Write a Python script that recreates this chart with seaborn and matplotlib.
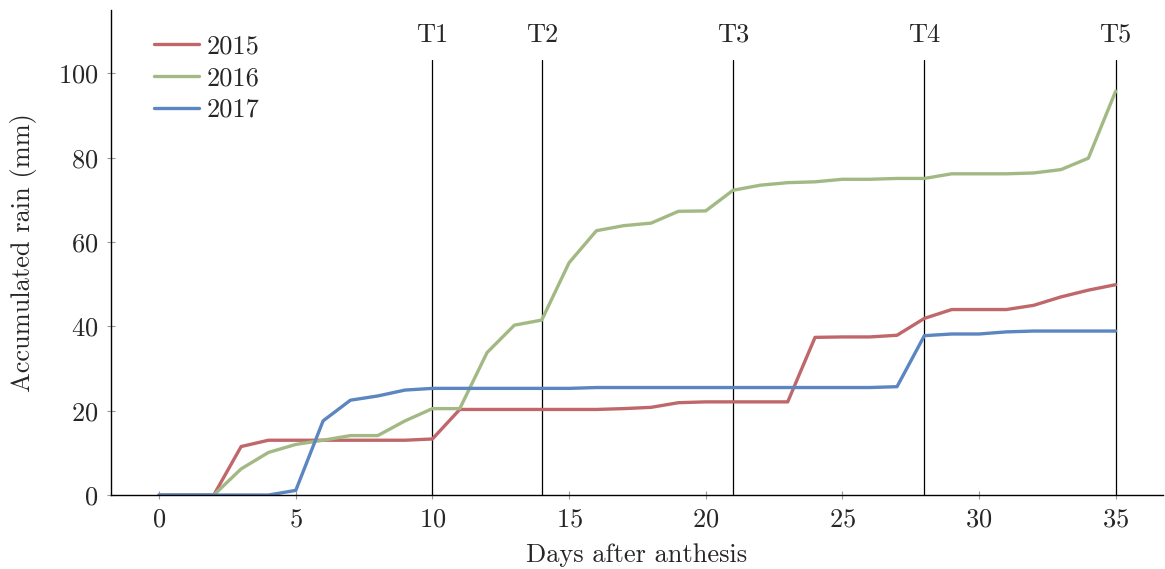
import numpy as np
import pandas as pd
import matplotlib
matplotlib.use("Agg")
import matplotlib.pyplot as plt
import seaborn as sns

days = list(range(0, 36))

rain_2015 = [0, 0, 0, 11.5, 13.0, 13.0, 13.0, 13.0, 13.0, 13.0, 13.3,
             20.3, 20.3, 20.3, 20.3, 20.3, 20.3, 20.5, 20.8, 21.9, 22.1,
             22.1, 22.1, 22.1, 37.4, 37.5, 37.5, 37.9, 41.9, 44.0, 44.0,
             44.0, 45.0, 47.0, 48.6, 49.9]
rain_2016 = [0, 0, 0, 6.2, 10.1, 12.0, 13.0, 14.1, 14.1, 17.6, 20.5,
             20.5, 33.8, 40.3, 41.5, 55.1, 62.7, 63.9, 64.5, 67.3, 67.4,
             72.3, 73.5, 74.1, 74.3, 74.9, 74.9, 75.1, 75.1, 76.2, 76.2,
             76.2, 76.4, 77.2, 79.9, 95.8]
rain_2017 = [0, 0, 0, 0, 0, 1.1, 17.6, 22.5, 23.5, 24.9, 25.3,
             25.3, 25.3, 25.3, 25.3, 25.3, 25.5, 25.5, 25.5, 25.5, 25.5,
             25.5, 25.5, 25.5, 25.5, 25.5, 25.5, 25.7, 37.8, 38.2, 38.2,
             38.7, 38.9, 38.9, 38.9, 38.9]

years = ["2015", "2016", "2017"]
colors = ["#C0676B", "#A2B984", "#5B86C0"]

treatment_days = [10, 14, 21, 28, 35]
treatment_labels = ["T1", "T2", "T3", "T4", "T5"]

df = pd.DataFrame({
    "day": days * 3,
    "rain": rain_2015 + rain_2016 + rain_2017,
    "year": [y for y in years for _ in days],
})

sns.set_style("ticks")
plt.rcParams["font.family"] = ["cmr10", "DejaVu Serif"]
plt.rcParams["mathtext.fontset"] = "cm"
plt.rcParams["axes.formatter.use_mathtext"] = True

FS = 19

fig = plt.figure(figsize=(11.65, 5.69), dpi=100)
ax = fig.add_axes([0.0953, 0.130, 0.9027, 0.852])

sns.lineplot(data=df, x="day", y="rain", hue="year", palette=colors,
             linewidth=2.4, ax=ax, legend=True)

for d, lab in zip(treatment_days, treatment_labels):
    ax.plot([d, d], [0, 103.3], color="black", linewidth=0.9, zorder=1)
    ax.text(d, 106.3, lab, ha="center", va="bottom", fontsize=FS)

ax.set_xlim(-1.76, 36.72)
ax.set_ylim(0, 115)
ax.set_xticks([0, 5, 10, 15, 20, 25, 30, 35])
ax.set_yticks([0, 20, 40, 60, 80, 100])
ax.tick_params(axis="both", direction="inout", length=6, width=0.8,
               color="#999999", labelsize=FS, pad=6)
ax.set_xlabel("Days after anthesis", fontsize=FS, labelpad=9)
ax.set_ylabel("Accumulated rain (mm)", fontsize=FS, labelpad=15)

for side in ["top", "right"]:
    ax.spines[side].set_visible(False)
for side in ["left", "bottom"]:
    ax.spines[side].set_color("black")
    ax.spines[side].set_linewidth(1.0)

leg = ax.legend(loc="upper left", bbox_to_anchor=(0.031, 0.971), frameon=False,
                fontsize=FS, handlelength=1.7, handletextpad=0.28,
                labelspacing=0.3, borderaxespad=0)

fig.savefig("out.png", dpi=100)
